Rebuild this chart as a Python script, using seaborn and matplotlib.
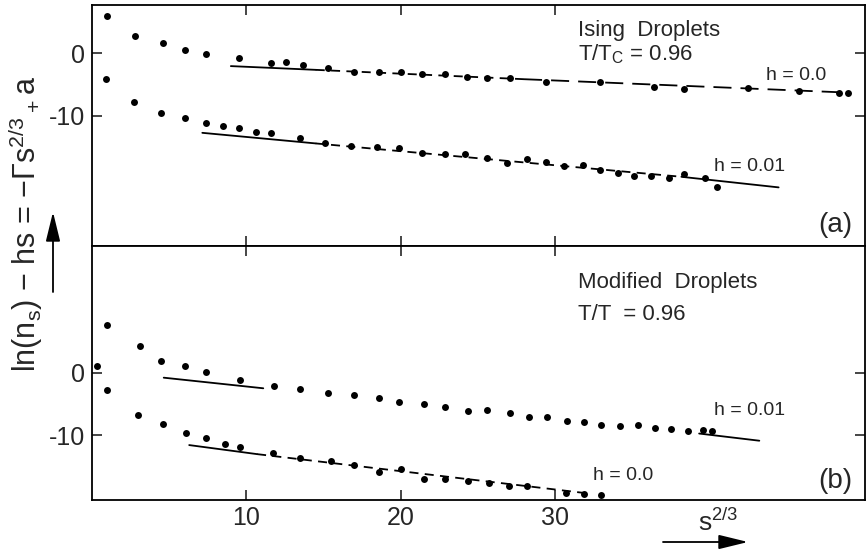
import matplotlib
matplotlib.use("Agg")
import matplotlib.pyplot as plt
import seaborn as sns

# panel (a): Ising droplets, T/Tc = 0.96
a_h00_x = [1.0, 2.8, 4.6, 6.0, 7.4, 9.5, 11.6, 12.6, 13.7, 15.3, 17.0, 18.6, 20.0, 21.4,
           22.9, 24.3, 25.6, 27.1, 29.4, 32.9, 36.4, 38.4, 42.5, 45.8, 48.4, 49.0]
a_h00_y = [6.0, 2.7, 1.6, 0.6, -0.1, -0.8, -1.5, -1.45, -1.9, -2.35, -3.0, -3.05, -3.05, -3.3,
           -3.3, -3.75, -3.95, -4.0, -4.55, -4.65, -5.35, -5.8, -5.6, -6.1, -6.4, -6.4]
a_h01_x = [0.9, 2.7, 4.5, 6.0, 7.4, 8.5, 9.5, 10.6, 11.6, 13.5, 15.1, 16.8, 18.5, 19.9, 21.4,
           22.9, 24.2, 25.6, 26.9, 28.2, 29.4, 30.6, 31.8, 32.9, 34.1, 35.1, 36.2, 37.4, 38.4,
           39.7, 40.5]
a_h01_y = [-4.1, -7.8, -9.6, -10.4, -11.1, -11.6, -12.0, -12.6, -12.7, -13.5, -14.45, -14.8,
           -15.05, -15.15, -16.0, -16.2, -16.15, -16.85, -17.6, -17.0, -17.5, -18.1, -17.9, -18.7,
           -19.25, -19.7, -19.7, -19.95, -19.4, -19.95, -21.5]

# fitted lines of (a): solid part, dashed parts
a_h00_fit_solid = ([9.0, 14.5], [-2.05, -2.65])
a_h00_fit_dash = ([14.5, 28.0], [-2.65, -4.15])
a_h00_fit_longdash = ([28.0, 49.0], [-4.15, -6.3])
a_h01_fit_solid1 = ([7.15, 14.5], [-12.75, -14.45])
a_h01_fit_dash = ([14.5, 38.2], [-14.45, -19.8])
a_h01_fit_solid2 = ([38.2, 44.5], [-19.8, -21.5])

# panel (b): modified droplets
b_h01_x = [1.0, 3.1, 4.5, 6.0, 7.4, 9.6, 11.8, 13.5, 15.3, 17.0, 18.6, 19.9, 21.5, 22.9, 24.4,
           25.6, 27.1, 28.3, 29.5, 30.8, 31.9, 33.0, 34.2, 35.4, 36.5, 37.5, 38.6, 39.6, 40.2]
b_h01_y = [7.7, 4.2, 1.9, 1.0, 0.1, -1.2, -2.1, -2.6, -3.25, -3.5, -4.05, -4.7, -5.0, -5.45,
           -6.15, -6.05, -6.4, -7.05, -7.05, -7.7, -7.95, -8.35, -8.5, -8.45, -8.85, -8.95, -9.3,
           -9.2, -9.4]
b_h00_x = [0.3, 1.0, 3.0, 4.6, 6.1, 7.4, 8.6, 9.6, 11.7, 13.5, 15.5, 17.0, 18.6, 20.0, 21.5,
           22.9, 24.4, 25.7, 27.0, 28.2, 30.7, 31.9, 33.0]
b_h00_y = [1.1, -2.8, -6.8, -8.3, -9.7, -10.5, -11.45, -11.95, -12.9, -13.7, -14.15, -14.8,
           -15.85, -15.5, -17.0, -17.05, -17.4, -17.75, -18.2, -18.2, -19.25, -19.45, -19.6]

b_h01_fit_solid1 = ([4.65, 11.1], [-0.8, -2.5])
b_h01_fit_solid2 = ([39.35, 43.25], [-9.75, -10.9])
b_h00_fit_solid = ([6.3, 10.7], [-11.6, -13.05])
b_h00_fit_dash = ([10.7, 32.0], [-13.05, -19.3])

x_ticks = [10, 20, 30]
y_ticks = [0, -10]

sns.set_style("ticks")
plt.rcParams["font.family"] = ["Liberation Sans", "DejaVu Sans"]
plt.rcParams["axes.unicode_minus"] = False
plt.rcParams["mathtext.default"] = "regular"

W, H = 868, 550
fig = plt.figure(figsize=(W / 100, H / 100), dpi=100)
left, right = 92 / W, 865 / W
ax_a = fig.add_axes([left, 1 - 246 / H, right - left, (246 - 5) / H])
ax_b = fig.add_axes([left, 1 - 500 / H, right - left, (500 - 246) / H])

dash = (0, (5, 3.5))
longdash = (0, (10, 5))


def draw_line(ax, seg, ls="-"):
    sns.lineplot(x=seg[0], y=seg[1], ax=ax, color="k", lw=1.3, linestyle=ls)


for ax, xs, ys in [(ax_a, a_h00_x, a_h00_y), (ax_a, a_h01_x, a_h01_y),
                   (ax_b, b_h01_x, b_h01_y), (ax_b, b_h00_x, b_h00_y)]:
    sns.scatterplot(x=xs, y=ys, ax=ax, color="k", s=25, linewidth=0, zorder=3)

draw_line(ax_a, a_h00_fit_solid)
draw_line(ax_a, a_h00_fit_dash, dash)
draw_line(ax_a, a_h00_fit_longdash, longdash)
draw_line(ax_a, a_h01_fit_solid1)
draw_line(ax_a, a_h01_fit_dash, dash)
draw_line(ax_a, a_h01_fit_solid2)
draw_line(ax_b, b_h01_fit_solid1)
draw_line(ax_b, b_h01_fit_solid2)
draw_line(ax_b, b_h00_fit_solid)
draw_line(ax_b, b_h00_fit_dash, dash)

ax_a.set_ylim(-30.9, 7.75)
ax_b.set_ylim(-20.4, 20.3)
for ax in (ax_a, ax_b):
    ax.set_xlim(0, 50.1)
    ax.set_xticks(x_ticks)
    ax.set_yticks(y_ticks)
    ax.set_yticklabels([str(v) for v in y_ticks])
    ax.tick_params(direction="in", length=7, width=1.2, top=True, right=True,
                   labelsize=18, pad=5)
    for sp in ax.spines.values():
        sp.set_linewidth(1.3)
        sp.set_color("k")
    ax.set_xlabel("")
    ax.set_ylabel("")
ax_a.tick_params(labelbottom=False)
ax_b.set_xticklabels([str(v) for v in x_ticks])
ax_b.tick_params(axis="x", pad=4)

# annotations panel (a)
ax_a.text(31.5, 2.7, "Ising  Droplets", fontsize=16)
ax_a.text(31.5, -1.1, "T/T$_C$ = 0.96", fontsize=16)
ax_a.text(43.7, -4.3, "h = 0.0", fontsize=14)
ax_a.text(40.3, -18.9, "h = 0.01", fontsize=14)
ax_a.text(47.1, -28.7, "(a)", fontsize=20)

# annotations panel (b)
ax_b.text(31.5, 13.6, "Modified  Droplets", fontsize=16)
ax_b.text(31.5, 8.5, "T/T  = 0.96", fontsize=16)
ax_b.text(40.3, -6.8, "h = 0.01", fontsize=14)
ax_b.text(32.5, -17.2, "h = 0.0", fontsize=14)
ax_b.text(47.1, -18.5, "(b)", fontsize=20)

# axis labels with arrows
fig.text(26 / W, 1 - 224 / H, "ln(n$_s$) − hs = −Γs$^{2/3}$$_+$a",
         rotation=90, ha="center", va="center", fontsize=22)
fig.text(718 / W, 1 - 522 / H, "s$^{2/3}$", ha="center", va="center", fontsize=19)
arrow = dict(arrowstyle="-|>,head_length=0.9,head_width=0.22", color="k", lw=1.3,
             mutation_scale=20, shrinkA=0, shrinkB=0)
fig.add_artist(matplotlib.patches.FancyArrowPatch(
    (53 / W, 1 - 292 / H), (53 / W, 1 - 212 / H), transform=fig.transFigure, **arrow))
fig.add_artist(matplotlib.patches.FancyArrowPatch(
    (663 / W, 1 - 542 / H), (748 / W, 1 - 542 / H), transform=fig.transFigure, **arrow))

fig.savefig("out.png", dpi=100)
